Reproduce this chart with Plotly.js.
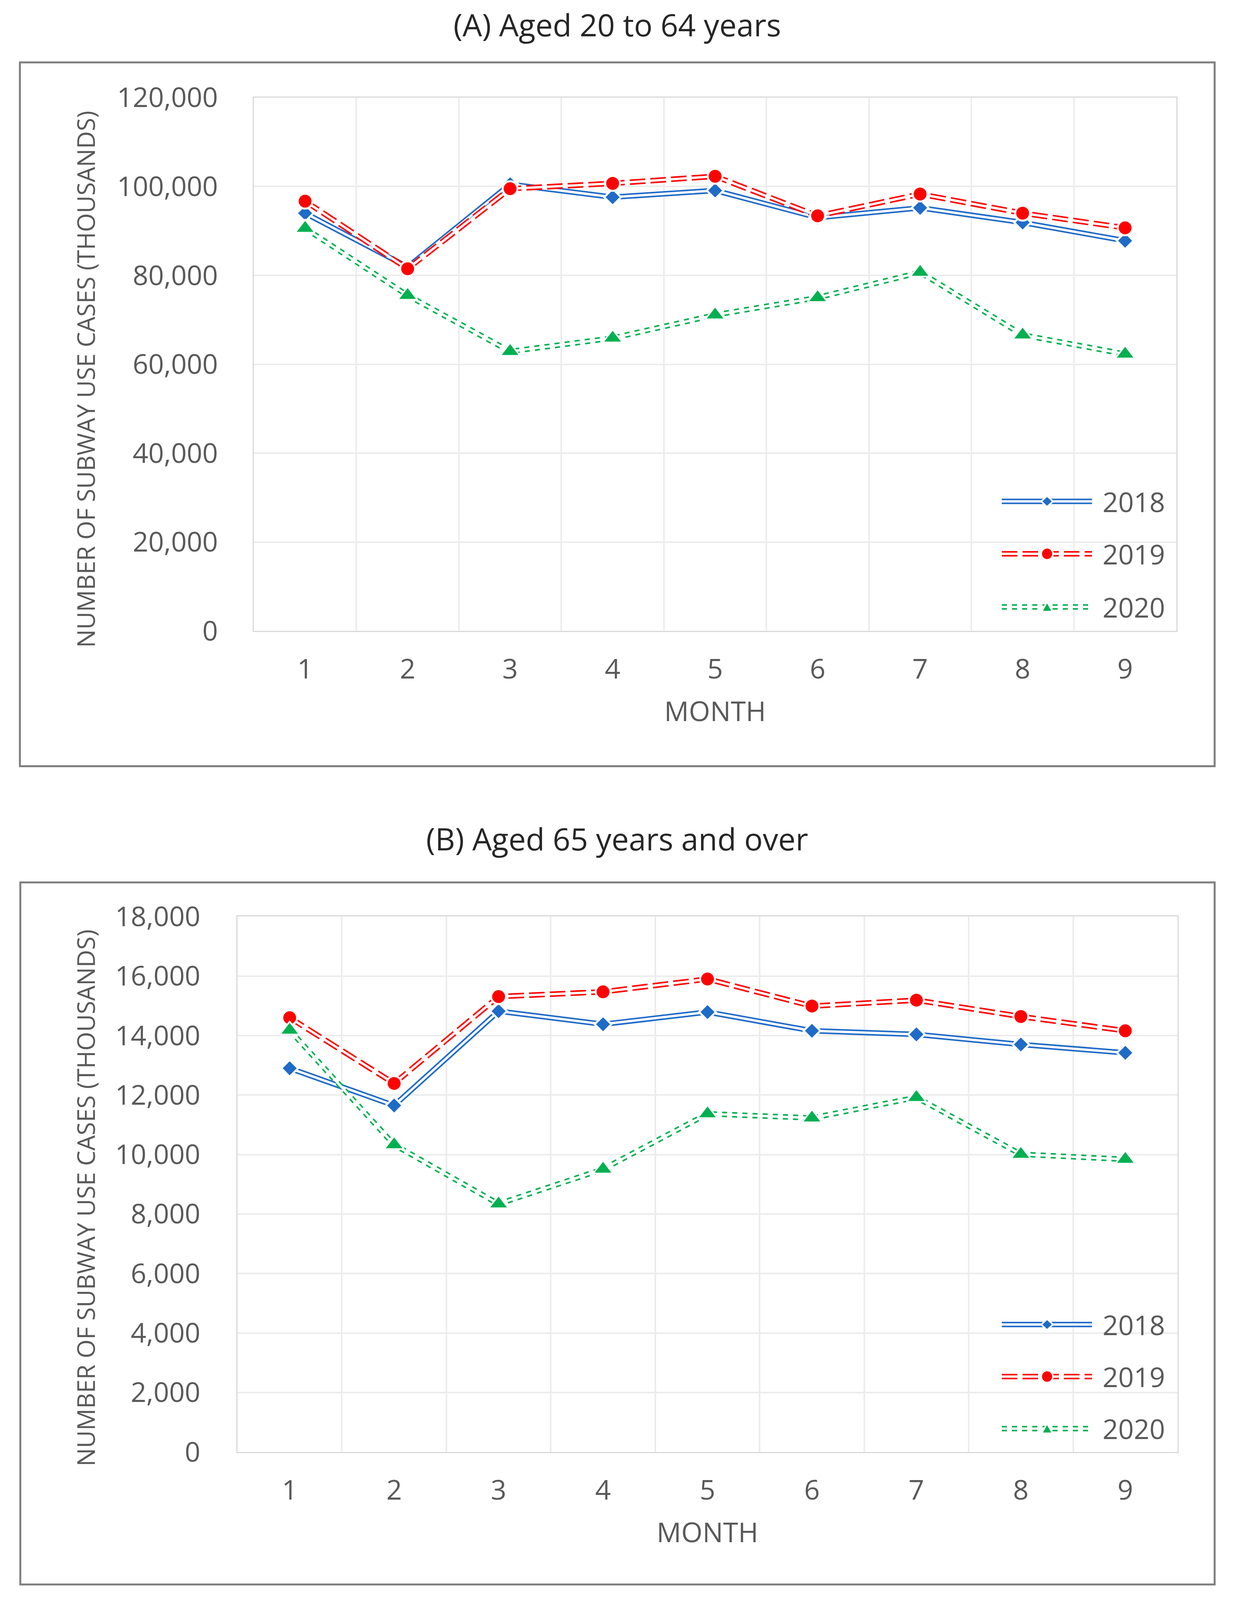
<!DOCTYPE html>
<html><head><meta charset="utf-8">
<script src="https://cdn.plot.ly/plotly-3.0.1.min.js"></script>
<style>html,body{margin:0;padding:0;background:#fff;overflow:hidden}#chart{width:3157px}</style>
</head><body><div id="chart"></div>
<script>
// ---------------- data ----------------
const months = [1, 2, 3, 4, 5, 6, 7, 8, 9];
const monthLabels = ['1', '2', '3', '4', '5', '6', '7', '8', '9'];
const seriesNames = ['2018', '2019', '2020'];

// (A) Aged 20 to 64 years, thousands
const adult2018 = [94000, 81900, 100500, 97600, 99100, 93000, 95200, 91900, 87800];
const adult2019 = [96700, 81500, 99500, 100700, 102300, 93400, 98300, 94000, 90700];
const adult2020 = [90600, 75500, 62900, 65900, 71100, 75000, 80700, 66600, 62300];

// (B) Aged 65 years and over, thousands
const senior2018 = [12900, 11650, 14820, 14380, 14790, 14160, 14040, 13700, 13420];
const senior2019 = [14600, 12390, 15310, 15470, 15900, 14990, 15190, 14640, 14160];
const senior2020 = [14180, 10330, 8340, 9510, 11370, 11230, 11920, 10010, 9840];

const panelTitles = ['(A) Aged 20 to 64 years', '(B) Aged 65 years and over'];
const xTitleText = 'MONTH';
const yTitleText = 'NUMBER OF SUBWAY USE CASES (THOUSANDS)';

// ---------------- layout helpers ----------------
const W = 3157, REF_H = 4640;
const RH = Math.min(REF_H, window.innerHeight || REF_H);   // drawable height of the window
const K = RH / REF_H;
document.getElementById('chart').style.height = RH + 'px';
const px = v => v / W;
const py = v => 1 - v / REF_H;
const FONT = 'Open Sans, sans-serif';
const GREY_TXT = '#595959';
const GRID = '#ECECEC';
const OUTER = 14, INNER = 6;

const styles = [
  {color: '#1F6BC8', dash: 'solid', symbol: 'diamond', size: 33, ml: 5},
  {color: '#FF0000', dash: '40px,13px', symbol: 'circle', size: 38, ml: 5},
  {color: '#00B050', dash: '13px,13px', symbol: 'triangle-up', size: 44, ml: 4}
];

const panels = [
  {xa: 'x', ya: 'y', left: 650, right: 3012, top: 283, bottom: 1830, ymax: 120000, dtick: 20000, yStand: 75,
   box: [51, 181, 3110, 2222], titleY: 71, yTitleY: 1100, legendY: [1454, 1606, 1760],
   data: [adult2018, adult2019, adult2020]},
  {xa: 'x2', ya: 'y2', left: 608, right: 3015, top: 2658, bottom: 4211, ymax: 18000, dtick: 2000, yStand: 78,
   box: [52, 2559, 3110, 4595], titleY: 2432, yTitleY: 3474, legendY: [3841, 3992, 4143],
   data: [senior2018, senior2019, senior2020]}
];

function seriesTraces(ys, st, name, xa, ya) {
  return [
    {x: months, y: ys, xaxis: xa, yaxis: ya, mode: 'lines', name: name,
     line: {color: st.color, width: OUTER, dash: st.dash}, hoverinfo: 'skip'},
    {x: months, y: ys, xaxis: xa, yaxis: ya, mode: 'lines', name: name,
     line: {color: '#FFFFFF', width: INNER}, hoverinfo: 'skip'},
    {x: months, y: ys, xaxis: xa, yaxis: ya, mode: 'markers', name: name,
     marker: {symbol: st.symbol, size: st.size, color: st.color, line: {color: '#FFFFFF', width: st.ml}}}
  ];
}

const traces = [];
const shapes = [];
const annotations = [];
const layout = {
  width: W, height: RH,
  margin: {l: 0, r: 0, t: 0, b: 0},
  paper_bgcolor: '#FFFFFF', plot_bgcolor: '#FFFFFF',
  showlegend: false,
  font: {family: FONT, color: GREY_TXT}
};

const legendMarkerShape = [
  () => ({type: 'path', path: 'M0,14 L15,0 L0,-14 L-15,0 Z'}),
  () => ({type: 'circle', x0: -15, x1: 15, y0: -15.5, y1: 15.5}),
  () => ({type: 'path', path: 'M-14,-12 L14,-12 L0,13 Z'})
];

const xTickStand = Math.max(0, Math.round(107 * K - 59));
const xTitleStand = Math.max(0, Math.round(125 * K - 70));
const yTitleSize = Math.round(70 * K);

panels.forEach((p, pi) => {
  p.data.forEach((ys, si) => traces.push(...seriesTraces(ys, styles[si], seriesNames[si], p.xa, p.ya)));

  const xKey = pi === 0 ? 'xaxis' : 'xaxis2';
  const yKey = pi === 0 ? 'yaxis' : 'yaxis2';
  layout[xKey] = {
    domain: [px(p.left), px(p.right)], anchor: p.ya,
    range: [0.5, 9.5], tickmode: 'array', tickvals: months, ticktext: monthLabels,
    showgrid: false,
    minor: {tickmode: 'linear', tick0: 0.5, dtick: 1, showgrid: true, gridcolor: GRID, gridwidth: 4, ticks: ''},
    showline: true, linecolor: '#D9D9D9', linewidth: 3, mirror: true,
    ticks: '', ticklabelstandoff: xTickStand, zeroline: false, fixedrange: true,
    tickfont: {family: FONT, size: 70, color: GREY_TXT},
    title: {text: xTitleText, font: {family: FONT, size: 70, color: GREY_TXT}, standoff: xTitleStand}
  };
  layout[yKey] = {
    domain: [py(p.bottom), py(p.top)], anchor: p.xa,
    range: [0, p.ymax], tickmode: 'linear', tick0: 0, dtick: p.dtick, tickformat: ',d',
    showgrid: true, gridcolor: GRID, gridwidth: 4, zeroline: false,
    showline: true, linecolor: '#D9D9D9', linewidth: 3, mirror: true,
    ticks: '', ticklabelstandoff: p.yStand, fixedrange: true,
    tickfont: {family: FONT, size: 70, color: GREY_TXT}
  };

  // y-axis title (sits slightly below the middle of the axis, as in the reference)
  annotations.push({text: yTitleText, xref: 'paper', yref: 'paper', x: px(219), y: py(p.yTitleY),
    xanchor: 'center', yanchor: 'middle', textangle: -90, showarrow: false,
    font: {family: FONT, size: yTitleSize, color: GREY_TXT}});

  // outer chart frame
  shapes.push({type: 'rect', xref: 'paper', yref: 'paper', layer: 'below',
    x0: px(p.box[0]), x1: px(p.box[2]), y0: py(p.box[3]), y1: py(p.box[1]),
    line: {color: '#7F7F7F', width: 5}, fillcolor: 'rgba(0,0,0,0)'});

  // panel title
  annotations.push({text: panelTitles[pi], xref: 'paper', yref: 'paper', x: px(1580), y: py(p.titleY),
    xanchor: 'center', yanchor: 'middle', showarrow: false,
    font: {family: FONT, size: 79, color: '#262626'}});

  // legend (inside the plot area, right side)
  seriesNames.forEach((nm, si) => {
    const st = styles[si];
    const yy = py(p.legendY[si]);
    shapes.push({type: 'line', xref: 'paper', yref: 'paper', x0: px(2565), x1: px(2796), y0: yy, y1: yy,
      line: {color: st.color, width: OUTER, dash: st.dash}});
    shapes.push({type: 'line', xref: 'paper', yref: 'paper', x0: px(2565), x1: px(2796), y0: yy, y1: yy,
      line: {color: '#FFFFFF', width: INNER}});
    const m = legendMarkerShape[si]();
    Object.assign(m, {xref: 'paper', yref: 'paper', xsizemode: 'pixel', ysizemode: 'pixel',
      xanchor: px(2681), yanchor: yy, fillcolor: st.color, line: {color: '#FFFFFF', width: 4}});
    shapes.push(m);
    annotations.push({text: nm, xref: 'paper', yref: 'paper', x: px(2821), y: yy,
      xanchor: 'left', yanchor: 'middle', showarrow: false,
      font: {family: FONT, size: 70, color: GREY_TXT}});
  });
});

layout.shapes = shapes;
layout.annotations = annotations;

Plotly.newPlot('chart', traces, layout, {staticPlot: true, displayModeBar: false});
</script>
</body></html>
